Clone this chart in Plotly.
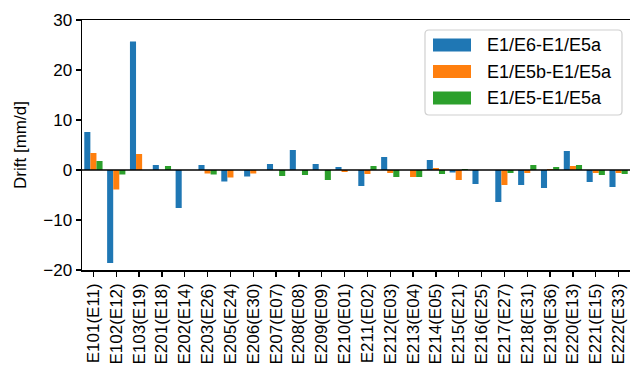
import plotly.graph_objects as go

categories = ["E101(E11)", "E102(E12)", "E103(E19)", "E201(E18)", "E202(E14)", "E203(E26)",
              "E205(E24)", "E206(E30)", "E207(E07)", "E208(E08)", "E209(E09)", "E210(E01)",
              "E211(E02)", "E212(E03)", "E213(E04)", "E214(E05)", "E215(E21)", "E216(E25)",
              "E217(E27)", "E218(E31)", "E219(E36)", "E220(E13)", "E221(E15)", "E222(E33)"]

series_names = ["E1/E6-E1/E5a", "E1/E5b-E1/E5a", "E1/E5-E1/E5a"]
e6_minus_e5a = [7.6, -18.6, 25.7, 1.0, -7.6, 1.0, -2.3, -1.3, 1.2, 4.0, 1.2, 0.6,
                -3.2, 2.6, 0.0, 2.0, -0.5, -2.8, -6.4, -3.0, -3.6, 3.8, -2.4, -3.4]
e5b_minus_e5a = [3.4, -3.9, 3.2, 0.0, 0.0, -0.7, -1.5, -0.7, 0.0, 0.0, 0.0, -0.4,
                 -0.8, -0.6, -1.4, 0.4, -2.0, 0.0, -3.0, -0.6, 0.2, 0.8, -0.6, -0.6]
e5_minus_e5a = [1.8, -0.9, 0.0, 0.8, 0.0, -0.9, 0.0, 0.0, -1.2, -1.0, -2.0, 0.0,
                0.8, -1.4, -1.4, -0.8, 0.2, 0.0, -0.6, 1.0, 0.6, 1.0, -1.0, -0.8]
colors = ["#1f77b4", "#ff7f0e", "#2ca02c"]

W, H = 630, 373
ML, MR, MT, MB = 82, 0, 20, 103
FONT = "Liberation Sans, Arial, sans-serif"
FS = 17

fig = go.Figure()
for name, vals, c in zip(series_names, [e6_minus_e5a, e5b_minus_e5a, e5_minus_e5a], colors):
    fig.add_trace(go.Bar(x=categories, y=vals, name=name, marker=dict(color=c, line=dict(width=0)),
                         showlegend=False))

# pixel -> paper helpers for the custom legend
pw, ph = W - ML - MR, H - MT - MB
def px(x):
    return (x - ML) / pw
def py(y):
    return (H - MB - y) / ph

shapes = [dict(type="line", xref="paper", yref="y", x0=0, x1=1, y0=0, y1=0,
               line=dict(color="black", width=1.5), layer="above")]
annotations = []
# legend box (rounded)
x0, x1, y0, y1, r = 425, 622, 30, 115, 4
path = (f"M {px(x0 + r)},{py(y0)} L {px(x1 - r)},{py(y0)} Q {px(x1)},{py(y0)} {px(x1)},{py(y0 + r)} "
        f"L {px(x1)},{py(y1 - r)} Q {px(x1)},{py(y1)} {px(x1 - r)},{py(y1)} "
        f"L {px(x0 + r)},{py(y1)} Q {px(x0)},{py(y1)} {px(x0)},{py(y1 - r)} "
        f"L {px(x0)},{py(y0 + r)} Q {px(x0)},{py(y0)} {px(x0 + r)},{py(y0)} Z")
shapes.append(dict(type="path", xref="paper", yref="paper", path=path,
                   line=dict(color="#d0d0d0", width=1.2), fillcolor="rgba(255,255,255,0.8)", layer="above"))
for i, (name, c) in enumerate(zip(series_names, colors)):
    yc = 45 + i * 26.5
    shapes.append(dict(type="rect", xref="paper", yref="paper", x0=px(433), x1=px(471),
                       y0=py(yc - 6.5), y1=py(yc + 6.5), fillcolor=c, line=dict(width=0), layer="above"))
    annotations.append(dict(xref="paper", yref="paper", x=px(485), y=py(yc), text=name, showarrow=False,
                            xanchor="left", yanchor="middle", font=dict(family=FONT, size=FS + 1, color="black")))

fig.update_layout(
    width=W, height=H, margin=dict(l=ML, r=MR, t=MT, b=MB, pad=0),
    barmode="group", bargap=0.2, bargroupgap=0,
    plot_bgcolor="white", paper_bgcolor="white",
    font=dict(family=FONT, size=FS, color="black"),
    shapes=shapes, annotations=annotations,
)
fig.update_xaxes(range=[-0.5, 23.5], showline=True, linecolor="black", linewidth=1.5, mirror=True,
                 ticks="outside", ticklen=5, tickwidth=1.3, tickcolor="black", tickangle=-90,
                 showgrid=False, zeroline=False, tickfont=dict(family=FONT, size=FS), automargin=False)
fig.update_yaxes(range=[-20, 30], tickvals=[-20, -10, 0, 10, 20, 30], showline=True, linecolor="black",
                 linewidth=1.5, mirror=False, ticks="outside", ticklen=5, tickwidth=1.3, tickcolor="black",
                 showgrid=False, zeroline=False, tickfont=dict(family=FONT, size=FS), automargin=False,
                 title=dict(text="Drift [mm/d]", font=dict(family=FONT, size=FS), standoff=12))

fig.write_html("out.html", config={"displayModeBar": False, "staticPlot": True},
               post_script="document.body.style.margin='0';document.body.style.overflow='hidden';")
